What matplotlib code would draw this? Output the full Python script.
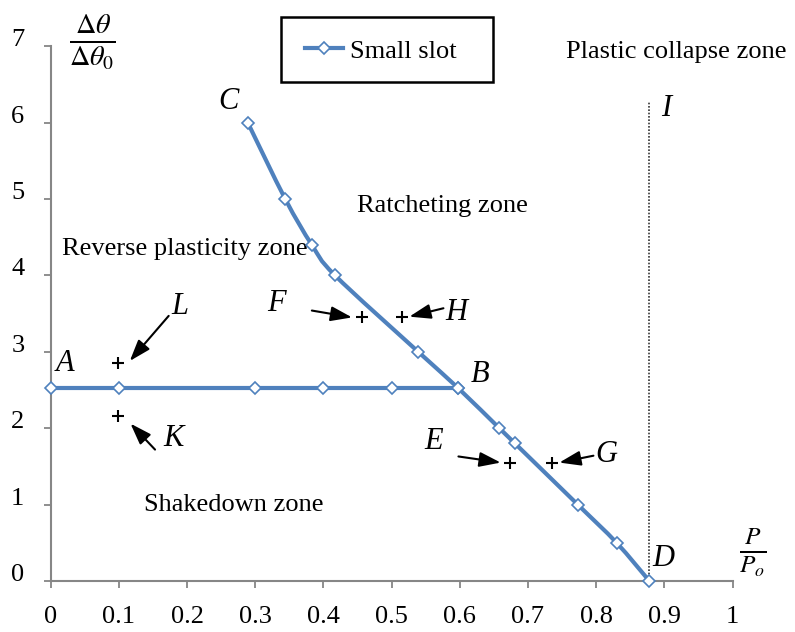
import matplotlib
matplotlib.use("Agg")
import matplotlib.pyplot as plt
from matplotlib.patches import Rectangle, PathPatch
from matplotlib.path import Path

plt.rcParams['font.family'] = ['Liberation Serif', 'DejaVu Serif']
plt.rcParams['mathtext.fontset'] = 'stix'

# Data
h_x = [0.0, 0.1, 0.3, 0.4, 0.5, 0.597]
h_y = [2.53, 2.53, 2.53, 2.53, 2.53, 2.53]
c_x = [0.289, 0.344, 0.383, 0.417, 0.539, 0.597, 0.658, 0.681, 0.773, 0.830, 0.878]
c_y = [6.0, 5.0, 4.4, 4.0, 3.0, 2.53, 2.0, 1.8, 1.0, 0.5, 0.0]
cross_names = ['L', 'K', 'F', 'H', 'E', 'G']
cross_x = [0.099, 0.099, 0.456, 0.515, 0.674, 0.735]
cross_y = [2.85, 2.16, 3.46, 3.46, 1.54, 1.54]
limit_x = 0.878
limit_top = 6.27
x_ticks = [0, 0.1, 0.2, 0.3, 0.4, 0.5, 0.6, 0.7, 0.8, 0.9, 1]
x_tick_labels = ['0', '0.1', '0.2', '0.3', '0.4', '0.5', '0.6', '0.7', '0.8', '0.9', '1']
y_ticks = [0, 1, 2, 3, 4, 5, 6, 7]

blue = '#4F81BD'
gray = '#868686'
LW = 3.0

fig = plt.figure(figsize=(7.95, 6.32), dpi=100)
ax = fig.add_axes([0.0638, 0.0807, 0.8576, 0.8462])
ax.set_xlim(0, 1)
ax.set_ylim(0, 7)

mk = dict(marker='D', markersize=6, markerfacecolor='white', markeredgecolor=blue,
          markeredgewidth=1.2, color=blue, linewidth=LW)
line, = ax.plot(h_x, h_y, clip_on=False, zorder=3, **mk)


def smooth_path(xs, ys):
    pts = list(zip(xs, ys))
    n = len(pts)
    verts = [pts[0]]
    codes = [Path.MOVETO]
    for i in range(n - 1):
        p0 = pts[i - 1] if i > 0 else pts[i]
        p1 = pts[i]
        p2 = pts[i + 1]
        p3 = pts[i + 2] if i + 2 < n else pts[i + 1]
        c1 = (p1[0] + (p2[0] - p0[0]) / 6, p1[1] + (p2[1] - p0[1]) / 6)
        c2 = (p2[0] - (p3[0] - p1[0]) / 6, p2[1] - (p3[1] - p1[1]) / 6)
        verts += [c1, c2, p2]
        codes += [Path.CURVE4] * 3
    return Path(verts, codes)


ax.add_patch(PathPatch(smooth_path(c_x, c_y), facecolor='none', edgecolor=blue, linewidth=LW,
                       clip_on=False, zorder=3, capstyle='round', joinstyle='round'))
ax.plot(c_x, c_y, linestyle='none', marker='D', markersize=6, markerfacecolor='white',
        markeredgecolor=blue, markeredgewidth=1.2, clip_on=False, zorder=4)

ax.plot([limit_x, limit_x], [0, limit_top], color='#333333', linestyle=(0, (1, 1)), linewidth=1.2, zorder=2)

ax.plot(cross_x, cross_y, linestyle='none', marker='+', markersize=8, markeredgewidth=1.5, color='black', zorder=4)

for s in ['top', 'right']:
    ax.spines[s].set_visible(False)
for s in ['left', 'bottom']:
    ax.spines[s].set_color(gray)
    ax.spines[s].set_linewidth(1.5)
ax.set_xticks(x_ticks)
ax.set_xticklabels(x_tick_labels)
ax.set_yticks(y_ticks)
ax.tick_params(axis='both', direction='out', length=5, width=1.3, color=gray, labelsize=19, labelcolor='black')
ax.tick_params(axis='x', pad=13)
ax.tick_params(axis='y', pad=14)
for lab in ax.get_yticklabels():
    lab.set_va('baseline')

leg = ax.legend([line], ['Small slot'], loc='center left', bbox_to_anchor=(305 / 795, 1 - 51 / 632),
                bbox_transform=fig.transFigure,
                fontsize=19, frameon=False, handlelength=1.44, handletextpad=0.25,
                borderpad=0, borderaxespad=0)
fig.patches.append(Rectangle((281 / 795, 1 - 82 / 632), 212 / 795, 65 / 632, transform=fig.transFigure,
                             facecolor='none', edgecolor='black', linewidth=1.8))


def T(x, y, s):
    ax.text(x, y, s, fontsize=19, va='center', ha='left')


T(0.7556, 6.93, 'Plastic collapse zone')
T(0.4487, 4.91, 'Ratcheting zone')
T(0.0161, 4.34, 'Reverse plasticity zone')
T(0.137, 0.995, 'Shakedown zone')


def L(x, y, s):
    ax.text(x, y, s, fontsize=22, fontstyle='italic', va='center', ha='center')


L(0.26, 6.27, 'C')
L(0.021, 2.85, 'A')
L(0.629, 2.70, 'B')
L(0.19, 3.59, 'L')
L(0.18, 1.87, 'K')
L(0.331, 3.63, 'F')
L(0.595, 3.52, 'H')
L(0.561, 1.82, 'E')
L(0.815, 1.65, 'G')
L(0.898, 0.30, 'D')
L(0.902, 6.19, 'I')


def A(x0, y0, x1, y1):
    ax.annotate('', xy=(x1, y1), xytext=(x0, y0),
                arrowprops=dict(arrowstyle='-|>,head_length=1.3,head_width=0.45', color='black', lw=1.5,
                                shrinkA=0, shrinkB=0))


A(0.383, 3.54, 0.442, 3.45)   # F
A(0.576, 3.57, 0.526, 3.46)   # H
A(0.598, 1.63, 0.660, 1.55)   # E
A(0.796, 1.64, 0.746, 1.55)   # G
A(0.173, 3.47, 0.116, 2.88)   # L
A(0.153, 1.72, 0.117, 2.06)   # K
A(0.942, 4.09, 1.001, 3.48)   # right arrow

fig.text(92 / 795, 1 - 42 / 632, r'$\frac{\Delta\theta}{\Delta\theta_0}$', fontsize=29, ha='center', va='center')
fig.text(753 / 795, 1 - 553 / 632, r'$\frac{P}{P_o}$', fontsize=26, ha='center', va='center')

fig.savefig('out.png', dpi=100)
